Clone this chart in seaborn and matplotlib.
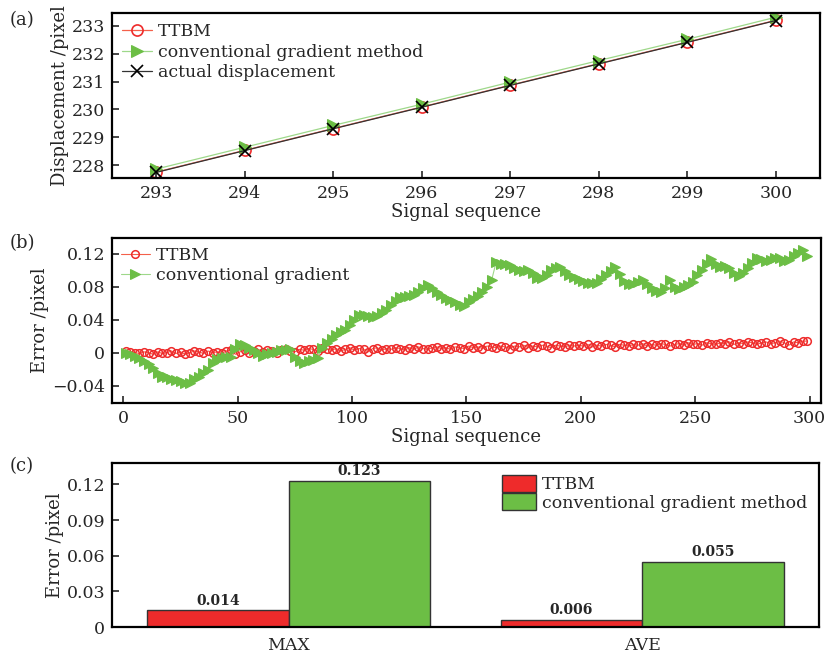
import numpy as np
import pandas as pd
import seaborn as sns
import matplotlib
matplotlib.use("Agg")
import matplotlib.pyplot as plt

# (a) displacement for the last signals
seq_a = [293, 294, 295, 296, 297, 298, 299, 300]
actual_a = [227.75, 228.53, 229.31, 230.08, 230.86, 231.63, 232.40, 233.18]
ttbm_a = [227.76, 228.54, 229.32, 230.09, 230.87, 231.64, 232.41, 233.19]
grad_a = [227.87, 228.65, 229.43, 230.19, 230.98, 231.75, 232.51, 233.30]

# (b) error per signal (every second signal)
seq_b = list(range(1, 300, 2))
grad_b = [
    -0.001, -0.002, -0.004, -0.007, -0.010, -0.014, -0.018, -0.025, -0.029, -0.030,
    -0.032, -0.033, -0.034, -0.037, -0.037, -0.032, -0.029, -0.025, -0.021, -0.012,
    -0.008, -0.007, -0.005, -0.005, 0.004, 0.011, 0.009, 0.006, 0.003, -0.001,
    -0.004, -0.002, 0.000, 0.001, 0.003, 0.003, 0.004, -0.005, -0.010, -0.012,
    -0.010, -0.009, -0.006, 0.006, 0.012, 0.016, 0.022, 0.025, 0.028, 0.033,
    0.039, 0.046, 0.046, 0.045, 0.043, 0.045, 0.048, 0.052, 0.058, 0.063,
    0.068, 0.067, 0.069, 0.070, 0.073, 0.078, 0.082, 0.078, 0.073, 0.070,
    0.066, 0.064, 0.061, 0.058, 0.057, 0.062, 0.065, 0.069, 0.074, 0.079,
    0.088, 0.110, 0.108, 0.107, 0.106, 0.103, 0.100, 0.099, 0.100, 0.097,
    0.091, 0.090, 0.094, 0.100, 0.103, 0.104, 0.099, 0.094, 0.092, 0.089,
    0.087, 0.085, 0.084, 0.085, 0.089, 0.094, 0.099, 0.104, 0.095, 0.087,
    0.083, 0.083, 0.086, 0.088, 0.083, 0.078, 0.075, 0.073, 0.078, 0.088,
    0.080, 0.077, 0.079, 0.082, 0.086, 0.094, 0.100, 0.107, 0.113, 0.108,
    0.104, 0.105, 0.103, 0.096, 0.093, 0.097, 0.103, 0.109, 0.115, 0.113,
    0.111, 0.112, 0.115, 0.115, 0.111, 0.112, 0.117, 0.121, 0.125, 0.117,
]
ttbm_b = [
    0.002, 0.001, 0.000, -0.001, 0.001, 0.000, -0.002, 0.001, -0.001, 0.000,
    0.002, -0.001, 0.001, -0.002, 0.000, 0.002, 0.001, -0.001, 0.002, 0.000,
    0.001, -0.001, 0.002, 0.003, -0.002, 0.001, 0.003, 0.000, 0.002, 0.004,
    0.001, 0.003, 0.002, 0.000, 0.003, 0.004, 0.002, 0.001, 0.004, 0.003,
    0.005, 0.004, 0.002, 0.006, 0.004, 0.003, 0.005, 0.002, 0.004, 0.006,
    0.003, 0.005, 0.004, 0.001, 0.005, 0.006, 0.003, 0.005, 0.004, 0.006,
    0.005, 0.003, 0.006, 0.004, 0.007, 0.005, 0.004, 0.006, 0.007, 0.005,
    0.006, 0.004, 0.007, 0.006, 0.005, 0.008, 0.006, 0.007, 0.005, 0.008,
    0.007, 0.006, 0.008, 0.007, 0.005, 0.008, 0.007, 0.009, 0.006, 0.008,
    0.007, 0.009, 0.008, 0.006, 0.009, 0.008, 0.007, 0.009, 0.008, 0.009,
    0.008, 0.010, 0.007, 0.009, 0.008, 0.010, 0.009, 0.007, 0.010, 0.009,
    0.008, 0.010, 0.009, 0.011, 0.008, 0.010, 0.009, 0.011, 0.010, 0.008,
    0.010, 0.011, 0.009, 0.012, 0.010, 0.011, 0.009, 0.012, 0.011, 0.010,
    0.012, 0.011, 0.013, 0.010, 0.012, 0.011, 0.013, 0.012, 0.010, 0.012,
    0.013, 0.011, 0.012, 0.014, 0.012, 0.009, 0.013, 0.012, 0.014, 0.014,
]

# (c) summary
metrics = ["MAX", "MAX", "AVE", "AVE"]
methods = ["TTBM", "conventional gradient method", "TTBM", "conventional gradient method"]
errors = [0.014, 0.123, 0.006, 0.055]

RED = "#EE2B2B"
GREEN = "#6CBE45"

sns.set_style("white")
plt.rcParams["font.family"] = ["DejaVu Serif"]
plt.rcParams["font.size"] = 12
plt.rcParams["mathtext.fontset"] = "dejavuserif"

fig = plt.figure(figsize=(8.27, 6.61), dpi=100)
ax1 = fig.add_axes([0.1354, 0.7307, 0.8561, 0.2496])
ax2 = fig.add_axes([0.1354, 0.3903, 0.8573, 0.2497])
ax3 = fig.add_axes([0.1354, 0.0514, 0.8549, 0.2481])

for ax in (ax1, ax2, ax3):
    for s in ax.spines.values():
        s.set_linewidth(1.6)
        s.set_color("black")
    ax.tick_params(direction="in", length=5, width=1.2, labelsize=12.5,
                   top=False, right=False, bottom=True, left=True, pad=5)

leg_kw = dict(frameon=False, fontsize=12.5, handlelength=1.7,
              handletextpad=0.35, labelspacing=0.2, borderpad=0.2)

# ---- (a)
sns.lineplot(x=seq_a, y=ttbm_a, ax=ax1, color="#F4604A", lw=0.9, marker="o",
             markersize=8, markerfacecolor="none", markeredgecolor=RED,
             markeredgewidth=1.2, label="TTBM")
sns.lineplot(x=seq_a, y=grad_a, ax=ax1, color="#9ED88A", lw=0.9, marker=">",
             markersize=9, markerfacecolor=GREEN, markeredgecolor=GREEN,
             label="conventional gradient method")
sns.lineplot(x=seq_a, y=actual_a, ax=ax1, color="#333333", lw=0.9, marker="x",
             markersize=9, markeredgecolor="black", markeredgewidth=1.2,
             label="actual displacement")
ax1.set_xlim(292.5, 300.5)
ax1.set_ylim(227.55, 233.45)
ax1.set_xticks(seq_a)
ax1.set_yticks([228, 229, 230, 231, 232, 233])
ax1.set_xlabel("Signal sequence", fontsize=13, labelpad=1)
ax1.set_ylabel("Displacement /pixel", fontsize=13, labelpad=2)
ax1.legend(loc="upper left", borderaxespad=0.4, **leg_kw)

# ---- (b)
sns.lineplot(x=seq_b, y=ttbm_b, ax=ax2, color="#F4604A", lw=0.8, marker="o",
             markersize=5.5, markerfacecolor="none", markeredgecolor=RED,
             markeredgewidth=1.1, label="TTBM")
sns.lineplot(x=seq_b, y=grad_b, ax=ax2, color="#9ED88A", lw=0.8, marker=">",
             markersize=7.5, markerfacecolor=GREEN, markeredgecolor=GREEN,
             label="conventional gradient")
ax2.set_xlim(-5, 305)
ax2.set_ylim(-0.061, 0.139)
ax2.set_xticks([0, 50, 100, 150, 200, 250, 300])
ax2.set_yticks([-0.04, 0, 0.04, 0.08, 0.12])
ax2.set_yticklabels(["\u22120.04", "0", "0.04", "0.08", "0.12"])
ax2.set_xlabel("Signal sequence", fontsize=13, labelpad=1)
ax2.set_ylabel("Error /pixel", fontsize=13, labelpad=2)
ax2.legend(loc="upper left", borderaxespad=0.3, **leg_kw)

# ---- (c)
df = pd.DataFrame({"metric": metrics, "method": methods, "error": errors})
sns.barplot(data=df, x="metric", y="error", hue="method", ax=ax3,
            palette=[RED, GREEN], edgecolor="#333333", linewidth=1.0,
            saturation=1, width=0.8)
for cont in ax3.containers:
    ax3.bar_label(cont, fmt="%.3f", fontsize=10, fontweight="bold", padding=2)
ax3.set_xlim(-0.5, 1.5)
ax3.set_ylim(0, 0.138)
ax3.set_yticks([0, 0.03, 0.06, 0.09, 0.12])
ax3.set_yticklabels(["0", "0.03", "0.06", "0.09", "0.12"])
ax3.tick_params(axis="x", length=0, pad=7)
ax3.set_xlabel("")
ax3.set_ylabel("Error /pixel", fontsize=13, labelpad=2)
ax3.legend(loc="upper right", frameon=False, fontsize=12.5, handlelength=2.0,
           handleheight=1.1, handletextpad=0.3, labelspacing=0.0,
           borderaxespad=0.3, title=None)

fig.text(0.012, 0.962, "(a)", fontsize=13)
fig.text(0.012, 0.625, "(b)", fontsize=13)
fig.text(0.012, 0.288, "(c)", fontsize=13)

fig.savefig("out.png", dpi=100)
